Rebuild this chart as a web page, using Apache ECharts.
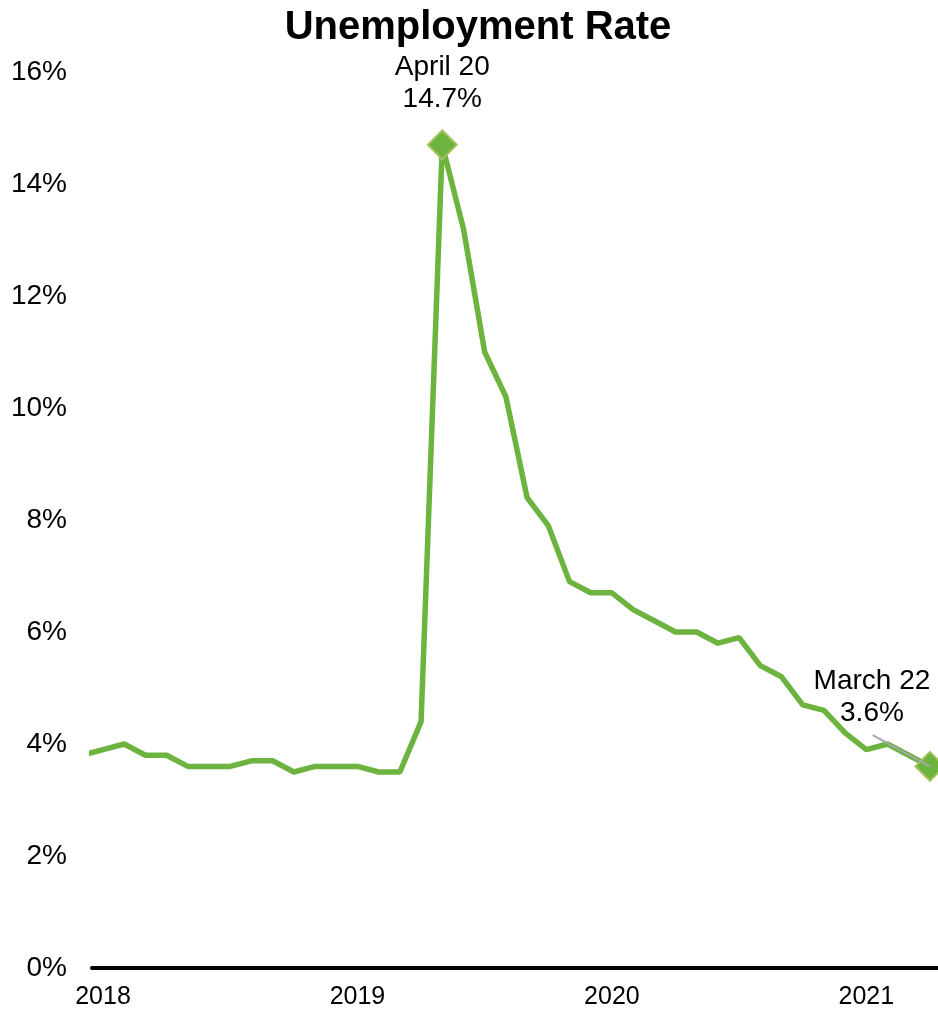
<!DOCTYPE html>
<html>
<head>
<meta charset="utf-8">
<script src="https://cdn.jsdelivr.net/npm/echarts@6/dist/echarts.min.js"></script>
<style>
html,body{margin:0;padding:0;background:#fff;}
#chart{width:938px;height:1014px;}
</style>
</head>
<body>
<div id="chart"></div>
<script>
// Months (index 0 = first month in series)
const months = ['Nov 18','Dec 18','Jan 19','Feb 19','Mar 19','Apr 19','May 19','Jun 19','Jul 19','Aug 19','Sep 19','Oct 19','Nov 19','Dec 19',
  'Jan 20','Feb 20','Mar 20','Apr 20','May 20','Jun 20','Jul 20','Aug 20','Sep 20','Oct 20','Nov 20','Dec 20',
  'Jan 21','Feb 21','Mar 21','Apr 21','May 21','Jun 21','Jul 21','Aug 21','Sep 21','Oct 21','Nov 21','Dec 21',
  'Jan 22','Feb 22','Mar 22'];
const rates = [3.8,3.9,4.0,3.8,3.8,3.6,3.6,3.6,3.7,3.7,3.5,3.6,3.6,3.6,
  3.5,3.5,4.4,14.7,13.2,11.0,10.2,8.4,7.9,6.9,6.7,6.7,
  6.4,6.2,6.0,6.0,5.8,5.9,5.4,5.2,4.7,4.6,4.2,3.9,
  4.0,3.8,3.6];
// x-axis tick labels and the month index they sit on
const xTickIndex = [1, 13, 25, 37];
const xTickLabels = ['2018', '2019', '2020', '2021'];
const yTicks = [0, 2, 4, 6, 8, 10, 12, 14, 16];
// annotated points
const peakLabel = 'April 20';
const lastLabel = 'March 22';

const peakIdx = months.indexOf('Apr 20');
const lastIdx = months.length - 1;

const FONT = "'Liberation Sans', Arial, Helvetica, sans-serif";
const lineColor = '#6DB33F';
const markerStyle = {color: '#6DB33F', borderColor: '#A5C45E', borderWidth: 2};

const seriesData = rates.map((v, i) => {
  const item = {value: [i, v]};
  if (i === peakIdx) {
    item.symbol = 'diamond';
    item.symbolSize = 29;
    item.itemStyle = markerStyle;
    item.label = {show: true, position: 'top', distance: 14,
      formatter: peakLabel + '\n' + v.toFixed(1) + '%'};
  }
  if (i === lastIdx) {
    item.symbol = 'diamond';
    item.symbolSize = 29;
    item.itemStyle = markerStyle;
    item.label = {show: true, position: 'top', distance: 5, offset: [-58, -17],
      formatter: lastLabel + '\n' + v.toFixed(1) + '%'};
  }
  return item;
});

const chart = echarts.init(document.getElementById('chart'), null, {renderer: 'canvas'});
chart.setOption({
  animation: false,
  backgroundColor: '#ffffff',
  title: {
    text: 'Unemployment Rate',
    left: 473, top: 3, textAlign: 'center',
    textStyle: {fontFamily: FONT, fontWeight: 'bold', fontSize: 40, color: '#000'}
  },
  grid: {left: 92, right: 0, top: 72, bottom: 46, containLabel: false},
  xAxis: {
    type: 'value',
    min: 0.48, max: 40.38,
    axisLine: {show: true, onZero: true, lineStyle: {color: '#000', width: 4}},
    axisTick: {show: false},
    splitLine: {show: false},
    axisLabel: {
      customValues: xTickIndex,
      formatter: (val) => {
        const k = xTickIndex.indexOf(Math.round(val));
        return k >= 0 ? xTickLabels[k] : '';
      },
      margin: 17,
      fontFamily: FONT, fontSize: 25, color: '#000'
    }
  },
  yAxis: {
    type: 'value',
    min: yTicks[0], max: yTicks[yTicks.length - 1], interval: 2,
    axisLine: {show: false},
    axisTick: {show: false},
    splitLine: {show: false},
    axisLabel: {
      formatter: '{value}%', margin: 25,
      fontFamily: FONT, fontSize: 28, color: '#000'
    }
  },
  series: [{
    type: 'line',
    data: seriesData,
    symbol: 'none',
    showSymbol: true,
    clip: true,
    lineStyle: {color: lineColor, width: 5.5},
    itemStyle: {color: lineColor},
    label: {show: false, fontFamily: FONT, fontSize: 28, color: '#000', lineHeight: 32, align: 'center'},
    z: 3,
    markLine: {
      silent: true,
      symbol: ['none', 'none'],
      label: {show: false},
      lineStyle: {color: '#A6A6A6', width: 2, type: 'solid'},
      data: [[{coord: [lastIdx - 2.7, rates[lastIdx] + 0.56]}, {coord: [lastIdx, rates[lastIdx]]}]],
      z: 4
    }
  }]
});
</script>
</body>
</html>
